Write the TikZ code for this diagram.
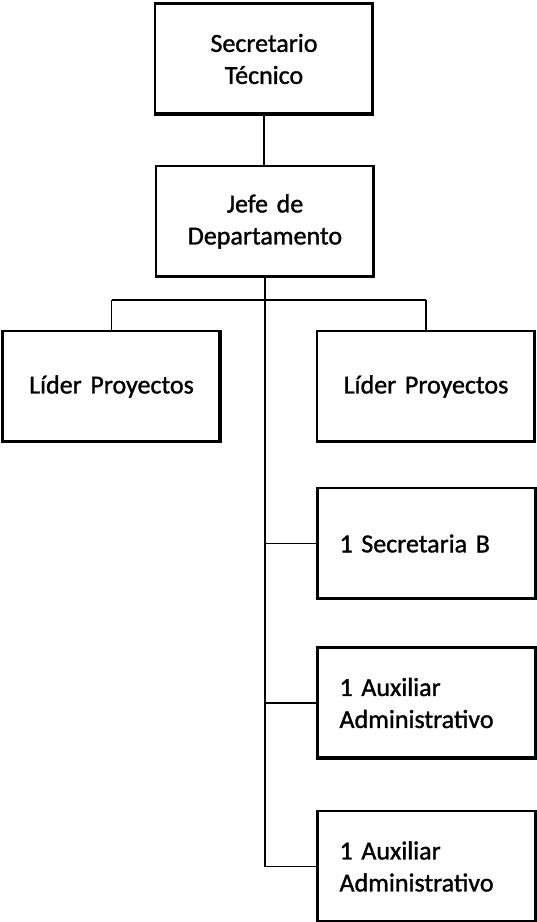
\documentclass[tikz,border=0pt]{standalone}
\usepackage{fontspec}
\setmainfont{Carlito}
\newfontfamily\scanfont[FakeBold=1.2,WordSpace=0.75]{Carlito}
\begin{document}
\begin{tikzpicture}[x=1pt,y=1pt,
  orgbox/.style={draw=black,line width=2.4pt,fill=white,minimum height=111pt,
    inner sep=0pt,font=\scanfont\fontsize{26}{32}\selectfont},
  cbox/.style={orgbox,text width=218pt,minimum width=218pt,align=center},
  lbox/.style={orgbox,text width=175pt,inner xsep=22pt,align=left},
  link/.style={draw=black,line width=1.5pt}]
\useasboundingbox (0,0) rectangle (537,-922);
% nodes
\node[cbox] (sec) at (264,-59) {Secretario\\Técnico};
\node[cbox] (jefe) at (265,-221.5) {Jefe de\\Departamento};
\node[cbox] (lid1) at (111.5,-386.5) {Líder Proyectos};
\node[cbox] (lid2) at (426,-386.5) {Líder Proyectos};
\node[lbox] (secb) at (427,-543.5) {1 Secretaria B};
\node[lbox] (aux1) at (427,-703) {1 Auxiliar\\Administrativo};
\node[lbox] (aux2) at (427,-866.5) {1 Auxiliar\\Administrativo};
% heavier bottom and right edges
\foreach \n in {sec,jefe,lid1,lid2,secb,aux1,aux2}{
  \draw[line width=2.6pt] ([shift={(1pt,2.3pt)}]\n.south west) -- ([shift={(-2.3pt,2.3pt)}]\n.south east)
     -- ([shift={(-2.3pt,-1pt)}]\n.north east);
}
\coordinate (bar) at (266,-300);
% connectors
\draw[link] (sec.south) -- (sec.south |- jefe.north);
\draw[link] (jefe.south) -- (jefe.south |- aux2.west);
\draw[link] (lid1.north |- bar) -- (lid2.north |- bar);
\draw[link] (lid1.north |- bar) -- (lid1.north);
\draw[link] (lid2.north |- bar) -- (lid2.north);
\draw[link] (jefe.south |- secb.west) -- (secb.west);
\draw[link] (jefe.south |- aux1.west) -- (aux1.west);
\draw[link] (jefe.south |- aux2.west) -- (aux2.west);
\end{tikzpicture}
\end{document}
